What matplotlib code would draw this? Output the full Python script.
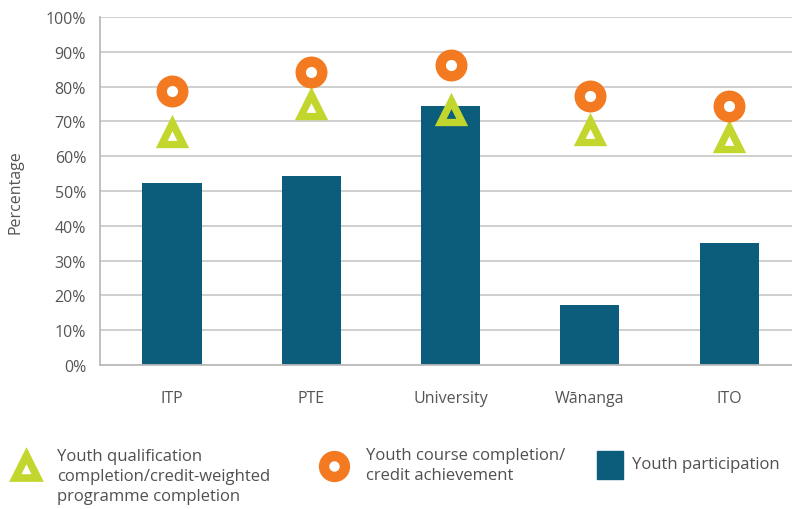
import matplotlib.pyplot as plt
from matplotlib.path import Path
from matplotlib.lines import Line2D
from matplotlib.patches import Rectangle
import numpy as np

categories = ['ITP', 'PTE', 'University', 'Wānanga', 'ITO']
participation = [52.3, 54.2, 74.4, 17.2, 35.1]
course_completion = [78.7, 84.2, 86.1, 77.3, 74.3]
qual_completion = [67.3, 75.3, 73.5, 67.8, 65.8]
yticks = list(range(0, 101, 10))

teal = '#0b5d7b'
orange = '#f37a21'
green = '#c3d62d'
grey_txt = '#555555'
grid_col = '#cccccc'

plt.rcParams['font.family'] = ['Open Sans', 'DejaVu Sans']

# triangle with a small triangular hole (hole sits on the incentre)
ic = -0.382
r = 0.29
top = ic + r * (1 - ic)
bot = ic + r * (-1 - ic)
tri_path = Path(
    [(0, 1), (-1, -1), (1, -1), (0, 1),
     (0, top), (r, bot), (-r, bot), (0, top)],
    [Path.MOVETO, Path.LINETO, Path.LINETO, Path.CLOSEPOLY,
     Path.MOVETO, Path.LINETO, Path.LINETO, Path.CLOSEPOLY])

fig = plt.figure(figsize=(7.92, 5.10), dpi=100)
ax = fig.add_axes([100 / 792, 1 - 366 / 510, 1 - 100 / 792, 348 / 510])

x = np.arange(len(categories))
ax.bar(x, participation, width=0.424, color=teal, zorder=2)
ax.plot(x, qual_completion, linestyle='none', marker=tri_path, markersize=24,
        color=green, markeredgewidth=0, zorder=3)
ax.plot(x, course_completion, linestyle='none', marker='o', markersize=15.5,
        markerfacecolor='white', markeredgecolor=orange, markeredgewidth=7.5,
        zorder=4)

ax.set_xlim(-0.517, 4.452)
ax.set_ylim(0, 100)
ax.set_yticks(yticks)
ax.set_yticklabels([f'{t}%' for t in yticks])
ax.set_xticks(x)
ax.set_xticklabels(categories)
ax.tick_params(axis='both', length=0, labelsize=11.5, colors=grey_txt, pad=10)
ax.tick_params(axis='x', pad=18)
ax.grid(axis='y', color=grid_col, linewidth=1.3, zorder=0)
ax.set_axisbelow(True)
for s in ['top', 'right']:
    ax.spines[s].set_visible(False)
for s in ['left', 'bottom']:
    ax.spines[s].set_color('#bbbbbb')
    ax.spines[s].set_linewidth(1.3)
ax.set_ylabel('Percentage', fontsize=11.5, color=grey_txt, labelpad=16)

# legend, laid out by hand below the chart
W, H = 792, 510


def fx(px):
    return px / W


def fy(py):
    return 1 - py / H


fig.add_artist(Line2D([fx(26)], [fy(465)], transform=fig.transFigure,
                      marker=tri_path, markersize=25, color=green,
                      markeredgewidth=0, linestyle='none'))
fig.text(fx(57), fy(477), 'Youth qualification\ncompletion/credit-weighted\nprogramme completion',
         fontsize=12, color='#505050', va='center', ha='left', linespacing=1.36)
fig.add_artist(Line2D([fx(334)], [fy(467)], transform=fig.transFigure,
                      marker='o', markersize=15, markerfacecolor='white',
                      markeredgecolor=orange, markeredgewidth=7.5,
                      linestyle='none'))
fig.text(fx(366), fy(466), 'Youth course completion/\ncredit achievement',
         fontsize=12, color='#505050', va='center', ha='left', linespacing=1.36)
fig.add_artist(Rectangle((fx(597), fy(480)), 26 / W, 28 / H,
                         transform=fig.transFigure, color=teal))
fig.text(fx(632), fy(465), 'Youth participation',
         fontsize=12, color='#505050', va='center', ha='left')

fig.savefig('out.png', dpi=100)
